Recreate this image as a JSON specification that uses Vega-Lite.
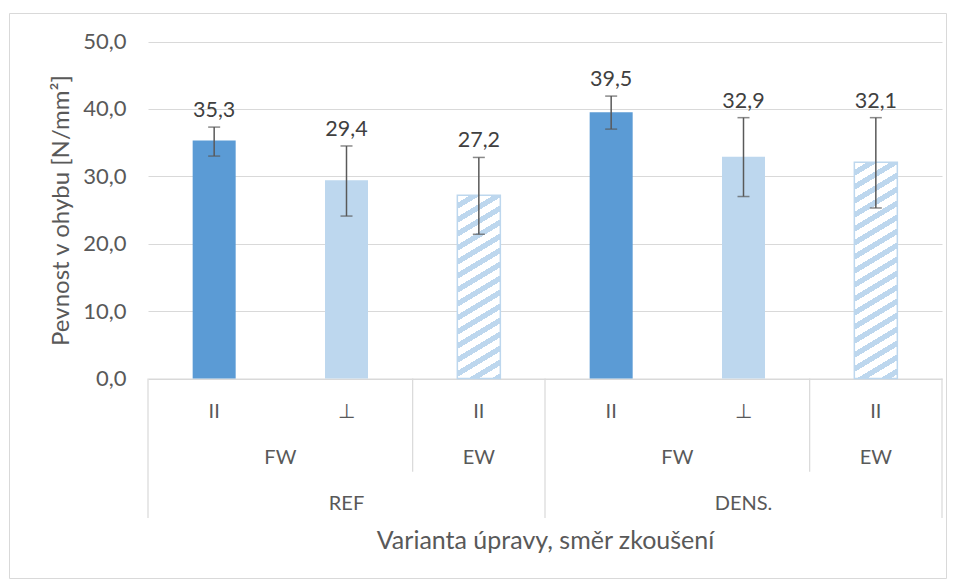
{
  "$schema": "https://vega.github.io/schema/vega-lite/v6.json",
  "width": 937,
  "height": 565,
  "autosize": {"type": "none"},
  "padding": {"left": 9, "top": 13, "right": 9, "bottom": 6},
  "background": "white",
  "config": {
    "font": "Lato",
    "locale": {"number": {"decimal": ",", "thousands": " ", "grouping": [3], "currency": ["", " Kč"]}},
    "view": {"stroke": "#d9d9d9", "strokeWidth": 1},
    "axis": {
      "labelFont": "Lato", "titleFont": "Lato",
      "labelColor": "#595959", "titleColor": "#595959",
      "labelFontSize": 20, "titleFontSize": 20, "titleFontWeight": "normal",
      "ticks": false, "tickSize": 0
    }
  },
  "datasets": {
    "bars": [
      {"variant": "REF", "wood": "FW", "dir": "II", "cat": "REF|FW|II", "value": 35.3, "lo": 33.0, "hi": 37.3},
      {"variant": "REF", "wood": "FW", "dir": "⊥", "cat": "REF|FW|⊥", "value": 29.4, "lo": 24.1, "hi": 34.5},
      {"variant": "REF", "wood": "EW", "dir": "II", "cat": "REF|EW|II", "value": 27.2, "lo": 21.4, "hi": 32.8},
      {"variant": "DENS.", "wood": "FW", "dir": "II", "cat": "DENS.|FW|II", "value": 39.5, "lo": 37.0, "hi": 41.9},
      {"variant": "DENS.", "wood": "FW", "dir": "⊥", "cat": "DENS.|FW|⊥", "value": 32.9, "lo": 27.0, "hi": 38.7},
      {"variant": "DENS.", "wood": "EW", "dir": "II", "cat": "DENS.|EW|II", "value": 32.1, "lo": 25.3, "hi": 38.7}
    ]
  },
  "data": {"name": "bars"},
  "encoding": {
    "x": {
      "field": "cat", "type": "nominal",
      "scale": {
        "type": "band",
        "domain": ["REF|FW|II", "REF|FW|⊥", "REF|EW|II", "DENS.|FW|II", "DENS.|FW|⊥", "DENS.|EW|II"],
        "range": [139, 933], "paddingInner": 0, "paddingOuter": 0
      },
      "axis": {
        "labelExpr": "split(datum.value, '|')[2]",
        "offset": -199.5, "domainColor": "#d9d9d9", "domainWidth": 1,
        "labelPadding": 23, "labelAngle": 0, "labelOverlap": false, "grid": false, "labelFontSize": 20,
        "title": "Varianta úpravy, směr zkoušení", "titleFontSize": 25, "titleY": 162, "titleBaseline": "middle"
      }
    }
  },
  "layer": [
    {
      "transform": [{"filter": "datum.wood == 'FW'"}],
      "mark": {"type": "bar", "width": {"band": 0.325}},
      "encoding": {
        "y": {
          "field": "value", "type": "quantitative",
          "scale": {"domain": [0, 50], "range": [365.5, 28.5], "nice": false, "zero": false},
          "axis": {
            "values": [0, 10, 20, 30, 40, 50], "format": ".1f", "offset": -139,
            "domain": false, "grid": true, "gridColor": "#d9d9d9", "gridWidth": 1.2,
            "labelPadding": 22, "labelFontSize": 22,
            "title": "Pevnost v ohybu [N/mm²]", "titleFontSize": 24, "titleX": -87, "titleY": 197,
            "titleBaseline": "middle", "titleAlign": "center", "titleAngle": -90
          }
        },
        "y2": {"datum": 0},
        "color": {"field": "dir", "type": "nominal", "scale": {"domain": ["II", "⊥"], "range": ["#5b9bd5", "#bdd7ee"]}, "legend": null}
      }
    },
    {
      "transform": [{"filter": "datum.cat == 'REF|EW|II'"}],
      "mark": {
        "type": "bar", "width": {"band": 0.325}, "stroke": "#bdd7ee", "strokeWidth": 1.5,
        "fill": {"gradient": "linear", "x1": 0, "y1": 0, "x2": 0.1689, "y2": 1.2, "stops": [
          {"offset": 0, "color": "#ffffff"}, {"offset": 0.0343, "color": "#ffffff"}, {"offset": 0.0343, "color": "#bdd7ee"}, {"offset": 0.0624, "color": "#bdd7ee"},
          {"offset": 0.0624, "color": "#ffffff"}, {"offset": 0.0967, "color": "#ffffff"}, {"offset": 0.0967, "color": "#bdd7ee"}, {"offset": 0.1248, "color": "#bdd7ee"},
          {"offset": 0.1248, "color": "#ffffff"}, {"offset": 0.1591, "color": "#ffffff"}, {"offset": 0.1591, "color": "#bdd7ee"}, {"offset": 0.1872, "color": "#bdd7ee"},
          {"offset": 0.1872, "color": "#ffffff"}, {"offset": 0.2215, "color": "#ffffff"}, {"offset": 0.2215, "color": "#bdd7ee"}, {"offset": 0.2496, "color": "#bdd7ee"},
          {"offset": 0.2496, "color": "#ffffff"}, {"offset": 0.2839, "color": "#ffffff"}, {"offset": 0.2839, "color": "#bdd7ee"}, {"offset": 0.312, "color": "#bdd7ee"},
          {"offset": 0.312, "color": "#ffffff"}, {"offset": 0.3463, "color": "#ffffff"}, {"offset": 0.3463, "color": "#bdd7ee"}, {"offset": 0.3744, "color": "#bdd7ee"},
          {"offset": 0.3744, "color": "#ffffff"}, {"offset": 0.4087, "color": "#ffffff"}, {"offset": 0.4087, "color": "#bdd7ee"}, {"offset": 0.4368, "color": "#bdd7ee"},
          {"offset": 0.4368, "color": "#ffffff"}, {"offset": 0.4711, "color": "#ffffff"}, {"offset": 0.4711, "color": "#bdd7ee"}, {"offset": 0.4992, "color": "#bdd7ee"},
          {"offset": 0.4992, "color": "#ffffff"}, {"offset": 0.5335, "color": "#ffffff"}, {"offset": 0.5335, "color": "#bdd7ee"}, {"offset": 0.5616, "color": "#bdd7ee"},
          {"offset": 0.5616, "color": "#ffffff"}, {"offset": 0.5959, "color": "#ffffff"}, {"offset": 0.5959, "color": "#bdd7ee"}, {"offset": 0.624, "color": "#bdd7ee"},
          {"offset": 0.624, "color": "#ffffff"}, {"offset": 0.6583, "color": "#ffffff"}, {"offset": 0.6583, "color": "#bdd7ee"}, {"offset": 0.6864, "color": "#bdd7ee"},
          {"offset": 0.6864, "color": "#ffffff"}, {"offset": 0.7207, "color": "#ffffff"}, {"offset": 0.7207, "color": "#bdd7ee"}, {"offset": 0.7488, "color": "#bdd7ee"},
          {"offset": 0.7488, "color": "#ffffff"}, {"offset": 0.7831, "color": "#ffffff"}, {"offset": 0.7831, "color": "#bdd7ee"}, {"offset": 0.8112, "color": "#bdd7ee"},
          {"offset": 0.8112, "color": "#ffffff"}, {"offset": 0.8455, "color": "#ffffff"}, {"offset": 0.8455, "color": "#bdd7ee"}, {"offset": 0.8736, "color": "#bdd7ee"},
          {"offset": 0.8736, "color": "#ffffff"}, {"offset": 0.9079, "color": "#ffffff"}, {"offset": 0.9079, "color": "#bdd7ee"}, {"offset": 0.936, "color": "#bdd7ee"},
          {"offset": 0.936, "color": "#ffffff"}, {"offset": 0.9703, "color": "#ffffff"}, {"offset": 0.9703, "color": "#bdd7ee"}, {"offset": 1, "color": "#bdd7ee"}
        ]}
      },
      "encoding": {"y": {"field": "value", "type": "quantitative"}, "y2": {"datum": 0}}
    },
    {
      "transform": [{"filter": "datum.cat == 'DENS.|EW|II'"}],
      "mark": {
        "type": "bar", "width": {"band": 0.325}, "stroke": "#bdd7ee", "strokeWidth": 1.5,
        "fill": {"gradient": "linear", "x1": 0, "y1": 0, "x2": 0.1431, "y2": 1.2, "stops": [
          {"offset": 0, "color": "#ffffff"}, {"offset": 0.0292, "color": "#ffffff"}, {"offset": 0.0292, "color": "#bdd7ee"}, {"offset": 0.0532, "color": "#bdd7ee"},
          {"offset": 0.0532, "color": "#ffffff"}, {"offset": 0.0824, "color": "#ffffff"}, {"offset": 0.0824, "color": "#bdd7ee"}, {"offset": 0.1063, "color": "#bdd7ee"},
          {"offset": 0.1063, "color": "#ffffff"}, {"offset": 0.1355, "color": "#ffffff"}, {"offset": 0.1355, "color": "#bdd7ee"}, {"offset": 0.1595, "color": "#bdd7ee"},
          {"offset": 0.1595, "color": "#ffffff"}, {"offset": 0.1887, "color": "#ffffff"}, {"offset": 0.1887, "color": "#bdd7ee"}, {"offset": 0.2127, "color": "#bdd7ee"},
          {"offset": 0.2127, "color": "#ffffff"}, {"offset": 0.2419, "color": "#ffffff"}, {"offset": 0.2419, "color": "#bdd7ee"}, {"offset": 0.2659, "color": "#bdd7ee"},
          {"offset": 0.2659, "color": "#ffffff"}, {"offset": 0.2951, "color": "#ffffff"}, {"offset": 0.2951, "color": "#bdd7ee"}, {"offset": 0.319, "color": "#bdd7ee"},
          {"offset": 0.319, "color": "#ffffff"}, {"offset": 0.3482, "color": "#ffffff"}, {"offset": 0.3482, "color": "#bdd7ee"}, {"offset": 0.3722, "color": "#bdd7ee"},
          {"offset": 0.3722, "color": "#ffffff"}, {"offset": 0.4014, "color": "#ffffff"}, {"offset": 0.4014, "color": "#bdd7ee"}, {"offset": 0.4254, "color": "#bdd7ee"},
          {"offset": 0.4254, "color": "#ffffff"}, {"offset": 0.4546, "color": "#ffffff"}, {"offset": 0.4546, "color": "#bdd7ee"}, {"offset": 0.4785, "color": "#bdd7ee"},
          {"offset": 0.4785, "color": "#ffffff"}, {"offset": 0.5077, "color": "#ffffff"}, {"offset": 0.5077, "color": "#bdd7ee"}, {"offset": 0.5317, "color": "#bdd7ee"},
          {"offset": 0.5317, "color": "#ffffff"}, {"offset": 0.5609, "color": "#ffffff"}, {"offset": 0.5609, "color": "#bdd7ee"}, {"offset": 0.5849, "color": "#bdd7ee"},
          {"offset": 0.5849, "color": "#ffffff"}, {"offset": 0.6141, "color": "#ffffff"}, {"offset": 0.6141, "color": "#bdd7ee"}, {"offset": 0.638, "color": "#bdd7ee"},
          {"offset": 0.638, "color": "#ffffff"}, {"offset": 0.6672, "color": "#ffffff"}, {"offset": 0.6672, "color": "#bdd7ee"}, {"offset": 0.6912, "color": "#bdd7ee"},
          {"offset": 0.6912, "color": "#ffffff"}, {"offset": 0.7204, "color": "#ffffff"}, {"offset": 0.7204, "color": "#bdd7ee"}, {"offset": 0.7444, "color": "#bdd7ee"},
          {"offset": 0.7444, "color": "#ffffff"}, {"offset": 0.7736, "color": "#ffffff"}, {"offset": 0.7736, "color": "#bdd7ee"}, {"offset": 0.7976, "color": "#bdd7ee"},
          {"offset": 0.7976, "color": "#ffffff"}, {"offset": 0.8268, "color": "#ffffff"}, {"offset": 0.8268, "color": "#bdd7ee"}, {"offset": 0.8507, "color": "#bdd7ee"},
          {"offset": 0.8507, "color": "#ffffff"}, {"offset": 0.8799, "color": "#ffffff"}, {"offset": 0.8799, "color": "#bdd7ee"}, {"offset": 0.9039, "color": "#bdd7ee"},
          {"offset": 0.9039, "color": "#ffffff"}, {"offset": 0.9331, "color": "#ffffff"}, {"offset": 0.9331, "color": "#bdd7ee"}, {"offset": 0.9571, "color": "#bdd7ee"},
          {"offset": 0.9571, "color": "#ffffff"}, {"offset": 0.9863, "color": "#ffffff"}, {"offset": 0.9863, "color": "#bdd7ee"}, {"offset": 1, "color": "#bdd7ee"}
        ]}
      },
      "encoding": {"y": {"field": "value", "type": "quantitative"}, "y2": {"datum": 0}}
    },
    {
      "mark": {"type": "rule", "color": "#595959", "strokeWidth": 1.5},
      "encoding": {"y": {"field": "lo", "type": "quantitative"}, "y2": {"field": "hi"}}
    },
    {
      "mark": {"type": "tick", "color": "#595959", "size": 12, "thickness": 1.5, "orient": "horizontal"},
      "encoding": {"y": {"field": "lo", "type": "quantitative"}}
    },
    {
      "mark": {"type": "tick", "color": "#595959", "size": 12, "thickness": 1.5, "orient": "horizontal"},
      "encoding": {"y": {"field": "hi", "type": "quantitative"}}
    },
    {
      "mark": {"type": "text", "fontSize": 21.5, "color": "#404040", "baseline": "alphabetic", "dy": -10},
      "encoding": {"y": {"field": "hi", "type": "quantitative"}, "text": {"field": "value", "type": "quantitative", "format": ".1f"}}
    },
    {
      "transform": [{"filter": "datum.wood == 'FW' && datum.dir == 'II'"}],
      "mark": {"type": "text", "fontSize": 20, "color": "#595959", "baseline": "middle"},
      "encoding": {
        "x": {"field": "cat", "type": "nominal", "bandPosition": 1},
        "y": {"datum": -11.83, "type": "quantitative"},
        "text": {"field": "wood"}
      }
    },
    {
      "transform": [{"filter": "datum.wood == 'EW'"}],
      "mark": {"type": "text", "fontSize": 20, "color": "#595959", "baseline": "middle"},
      "encoding": {
        "x": {"field": "cat", "type": "nominal", "bandPosition": 0.5},
        "y": {"datum": -11.83, "type": "quantitative"},
        "text": {"field": "wood"}
      }
    },
    {
      "transform": [{"filter": "datum.dir == '⊥'"}],
      "mark": {"type": "text", "fontSize": 20, "color": "#595959", "baseline": "middle"},
      "encoding": {
        "x": {"field": "cat", "type": "nominal", "bandPosition": 0.5},
        "y": {"datum": -18.6, "type": "quantitative"},
        "text": {"field": "variant"}
      }
    },
    {
      "transform": [{"filter": "datum.wood == 'FW' && datum.dir == 'II'"}],
      "mark": {"type": "rule", "color": "#d9d9d9", "strokeWidth": 1.2},
      "encoding": {
        "x": {"field": "cat", "type": "nominal", "bandPosition": 0},
        "y": {"datum": 0, "type": "quantitative"},
        "y2": {"datum": -20.7}
      }
    },
    {
      "transform": [{"filter": "datum.cat == 'DENS.|EW|II'"}],
      "mark": {"type": "rule", "color": "#d9d9d9", "strokeWidth": 1.2},
      "encoding": {
        "x": {"field": "cat", "type": "nominal", "bandPosition": 1},
        "y": {"datum": 0, "type": "quantitative"},
        "y2": {"datum": -20.7}
      }
    },
    {
      "transform": [{"filter": "datum.wood == 'EW'"}],
      "mark": {"type": "rule", "color": "#d9d9d9", "strokeWidth": 1.2},
      "encoding": {
        "x": {"field": "cat", "type": "nominal", "bandPosition": 0},
        "y": {"datum": 0, "type": "quantitative"},
        "y2": {"datum": -13.83}
      }
    }
  ]
}
